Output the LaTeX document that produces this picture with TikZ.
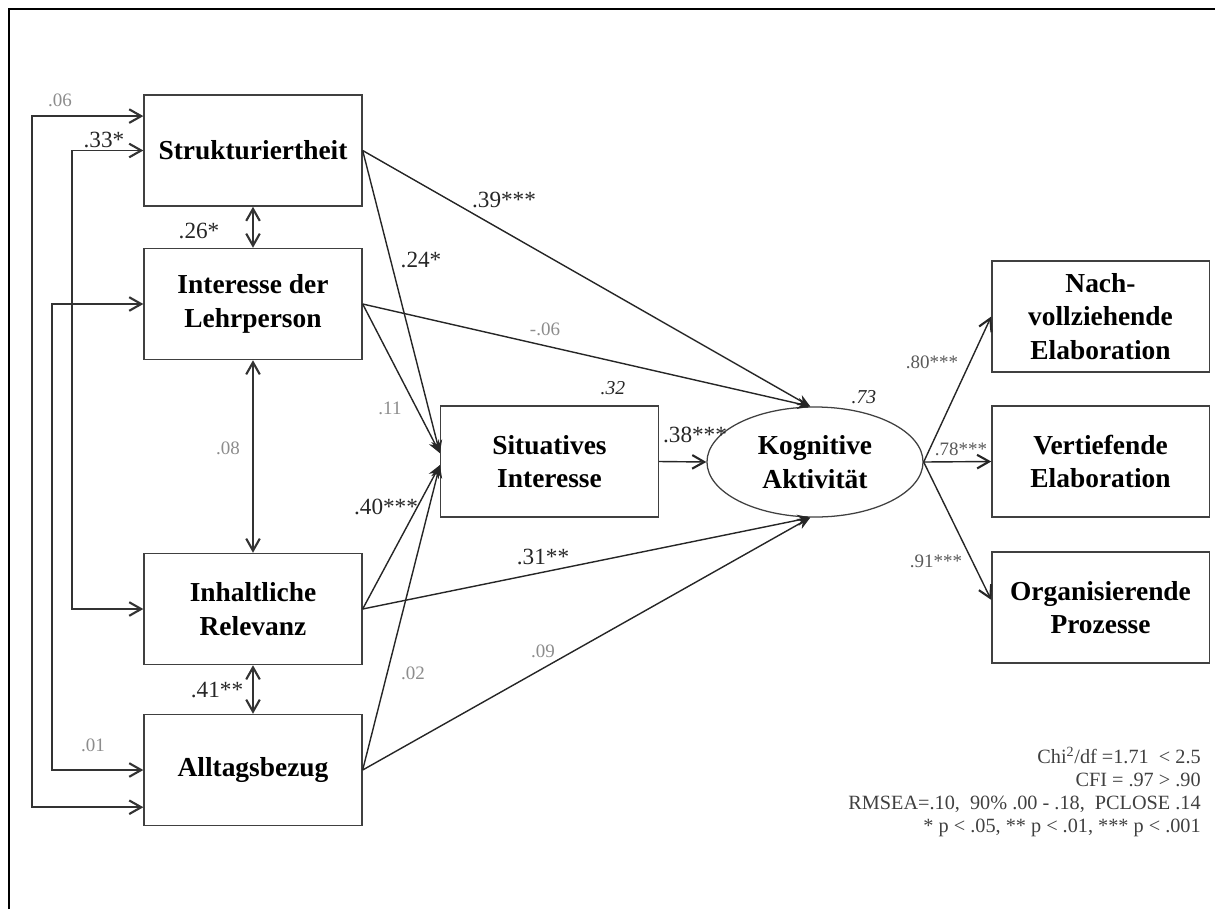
\documentclass[tikz,border=0pt]{standalone}
\usepackage{fontspec}
\setmainfont{Liberation Serif}
\usetikzlibrary{shapes.geometric,arrows.meta}

\begin{document}
\begin{tikzpicture}[x=0.025cm,y=-0.025cm,
    box/.style={draw=black!75,line width=0.9pt,minimum width=5.45cm,minimum height=2.78cm,
        inner sep=0pt,align=center,font=\fontsize{19.5}{24}\selectfont\bfseries},
    pfeil/.style={line width=1pt,draw=black!85,-{Stealth[length=3.2mm,width=2.8mm]}},
    offen/.style={line width=1pt,draw=black!85,-{Straight Barb[length=3mm,width=3.4mm,line width=1.5pt]}},
    korr/.style={line width=1.2pt,draw=black!80,
        {Straight Barb[length=3mm,width=3.4mm,line width=1.5pt]}-{Straight Barb[length=3mm,width=3.4mm,line width=1.5pt]}},
    sig/.style={inner sep=1pt,text=black!85,font=\fontsize{16.5}{18}\selectfont},
    ns/.style={inner sep=1pt,text=black!45,font=\fontsize{13.5}{16}\selectfont},
    lad/.style={inner sep=1pt,text=black!65,font=\fontsize{13.5}{16}\selectfont},
    rq/.style={inner sep=1pt,text=black!85,font=\fontsize{14}{16}\selectfont\itshape}]

    \useasboundingbox (0,0) rectangle (1215,909);
    \draw[line width=1.2pt] (9,909) -- (9,9) -- (1215,9);

    \node[box] (struktur) at (253,150.5) {Strukturiertheit};
    \node[box] (lehrer)   at (253,304)   {Interesse der\\Lehrperson};
    \node[box] (relevanz) at (253,609)   {Inhaltliche\\Relevanz};
    \node[box] (alltag)   at (253,770)   {Alltagsbezug};
    \node[box] (situativ) at (549.5,461.5) {Situatives\\Interesse};
    \node[box,ellipse,minimum width=5.4cm,minimum height=2.75cm] (kognitiv) at (815,462) {Kognitive\\Aktivität};
    \node[box,minimum width=5.43cm] (nachvoll) at (1100.5,316.5) {Nach-\\vollziehende\\Elaboration};
    \node[box,minimum width=5.43cm] (vertief)  at (1100.5,461.5) {Vertiefende\\Elaboration};
    \node[box,minimum width=5.43cm] (organis)  at (1100.5,607.5) {Organisierende\\Prozesse};

    \coordinate (situob)  at ([yshift=0.21cm]situativ.west);
    \coordinate (situun)  at ([yshift=-0.09cm]situativ.west);
    \coordinate (kogob)   at ([xshift=-0.12cm]kognitiv.north);
    \coordinate (kogun)   at ([xshift=-0.12cm]kognitiv.south);
    \coordinate (organin) at ([yshift=0.19cm]organis.west);

    \draw[pfeil] (struktur.east) -- (kogob);
    \draw[pfeil] (struktur.east) -- (situob);
    \draw[pfeil] (lehrer.east) -- (kogob);
    \draw[pfeil] (lehrer.east) -- (situob);
    \draw[pfeil] (relevanz.east) -- (situun);
    \draw[pfeil] (relevanz.east) -- (kogun);
    \draw[pfeil] (alltag.east) -- (situun);
    \draw[pfeil] (alltag.east) -- (kogun);
    \draw[offen] (situativ.east) -- (kognitiv.west);
    \draw[offen] (kognitiv.east) -- (nachvoll.west);
    \draw[offen] (kognitiv.east) -- (vertief.west);
    \draw[offen] (kognitiv.east) -- (organin);

    \draw[korr] (struktur.south) -- (lehrer.north);
    \draw[korr] (lehrer.south) -- (relevanz.north);
    \draw[korr] (relevanz.south) -- (alltag.north);
    \draw[korr] ([yshift=0.86cm]struktur.west) -- ++(-111,0) |- ([yshift=-0.93cm]alltag.west);
    \draw[korr] (struktur.west) -- ++(-71,0) |- (relevanz.west);
    \draw[korr] (lehrer.west) -- ++(-91,0) |- (alltag.west);

    \node[ns]  (k06) at (60,100)  {.06};
    \node[sig] (k33) at (104,140) {.33*};
    \node[sig] (k26) at (199,231) {.26*};
    \node[ns]  (k08) at (228,448) {.08};
    \node[sig] (k41) at (217,690) {.41**};
    \node[ns]  (k01) at (93,745)  {.01};

    \node[sig] (p39) at (504,200) {.39***};
    \node[sig] (p24) at (421,260) {.24*};
    \node[ns]  (p06) at (545,329) {-.06};
    \node[ns]  (p11) at (390,408) {.11};
    \node[sig] (p40) at (386,507) {.40***};
    \node[sig] (p31) at (543,557) {.31**};
    \node[ns]  (p09) at (543,651) {.09};
    \node[ns]  (p02) at (413,673) {.02};
    \node[sig] (p38) at (695,435) {.38***};
    \node[rq]  (r32) at (613,388) {.32};
    \node[rq]  (r73) at (864,397) {.73};

    \node[lad] (l80) at (932,362) {.80***};
    \node[lad] (l78) at (961,449) {.78***};
    \node[lad] (l91) at (936,561) {.91***};

    \node[anchor=east,align=right,inner sep=0pt,text=black!75,font=\fontsize{14.4}{16.5}\selectfont] (guete) at (1201,792)
        {Chi\textsuperscript{2}/df =1.71~~< 2.5\\CFI = .97 > .90\\RMSEA=.10,~~90\% .00 - .18,~~PCLOSE .14\\* p < .05, ** p < .01, *** p < .001};

\end{tikzpicture}
\end{document}
